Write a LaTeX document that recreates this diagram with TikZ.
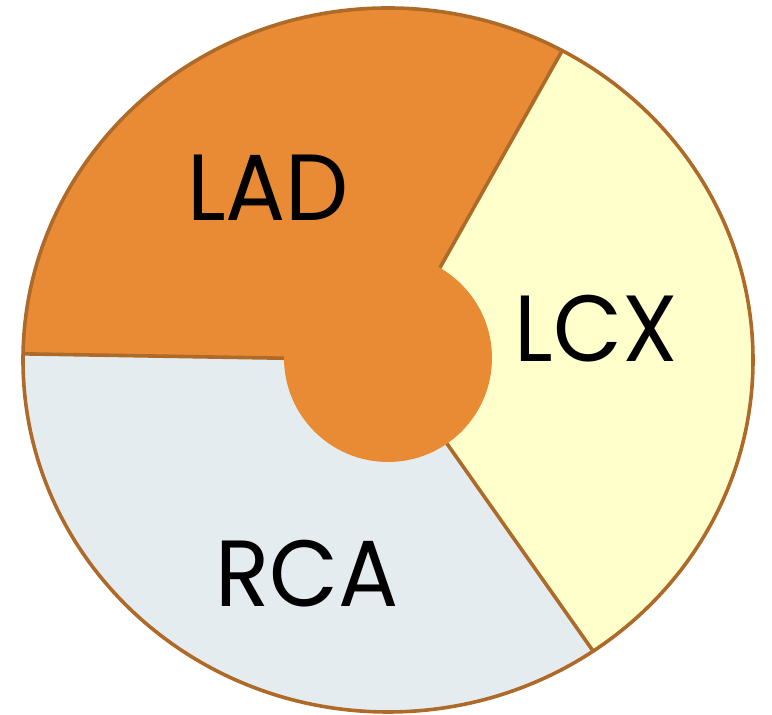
\documentclass[tikz,border=0pt]{standalone}
\usepackage{fontspec}
\setmainfont{Poppins}
\definecolor{ladorange}{HTML}{E98B35}
\definecolor{lcxyellow}{HTML}{FFFFCC}
\definecolor{rcagrey}{HTML}{E4ECF0}
\definecolor{rimbrown}{HTML}{AD6A28}

\begin{document}
\begin{tikzpicture}[x=0.5pt, y=0.5pt,
        rim/.style={draw=rimbrown, line width=1.8pt},
        arterytext/.style={font=\fontsize{47}{50}\selectfont, text=black, xscale=0.95}]
        \useasboundingbox (0,0) rectangle (772,715);
        \coordinate (c) at (388,355);
        \path (c) ++(61.5:365 and 352) coordinate (ladlcx);
        \path (c) ++(-55.8:365 and 352) coordinate (lcxrca);
        \path (c) ++(179:365 and 352) coordinate (rcalad);
        % sectors
        \fill[ladorange] (c) -- (ladlcx) arc[start angle=61.5, end angle=179, x radius=365, y radius=352] -- cycle;
        \fill[lcxyellow] (c) -- (lcxrca) arc[start angle=-55.8, end angle=61.5, x radius=365, y radius=352] -- cycle;
        \fill[rcagrey] (c) -- (rcalad) arc[start angle=179, end angle=304.2, x radius=365, y radius=352] -- cycle;
        % borders
        \draw[rim] (c) -- (ladlcx);
        \draw[rim] (c) -- (lcxrca);
        \draw[rim] (c) -- (rcalad);
        \draw[rim] (c) ellipse[x radius=365, y radius=352];
        % hub
        \fill[ladorange] (388,357) circle[radius=104];
        \node[arterytext] (lad) at (268,527) {LAD};
        \node[arterytext] (lcx) at (596,386) {LCX};
        \node[arterytext] (rca) at (307,141) {RCA};
\end{tikzpicture}
\end{document}
